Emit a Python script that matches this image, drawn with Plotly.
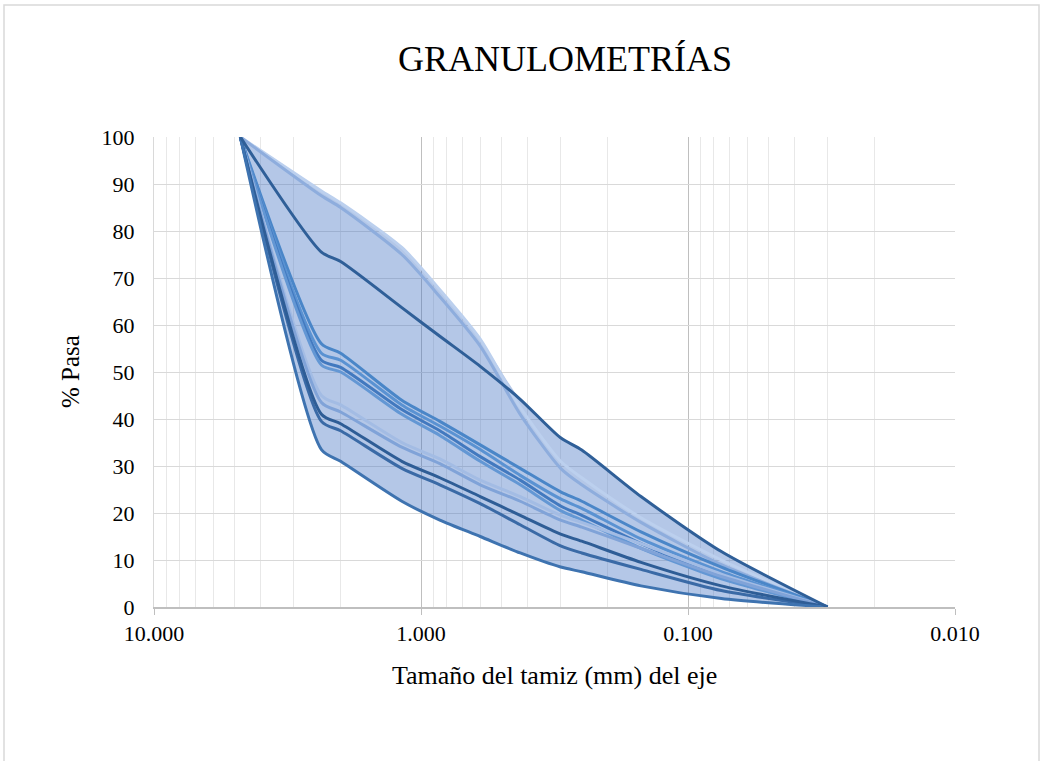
import plotly.graph_objects as go

# Sieve openings (mm) and percent passing for each sample
tamices = [4.75, 2.36, 2.00, 1.18, 0.85, 0.60, 0.425, 0.30, 0.25, 0.15, 0.075, 0.03]

muestra_l1 = [100, 88.5, 86.0, 76.5, 67.5, 57.0, 42.5, 31.0, 27.5, 19.0, 10.0, 0]
muestra_l2 = [100, 87.5, 85.0, 75.0, 66.0, 55.5, 41.0, 29.5, 26.0, 18.0, 9.0, 0]
muestra_d = [100, 75.5, 73.5, 63.7, 57.6, 51.2, 44.2, 36.0, 33.4, 23.5, 11.8, 0]
muestra_m1 = [100, 56.0, 54.0, 44.0, 39.5, 34.5, 29.5, 24.5, 22.5, 16.0, 8.5, 0]
muestra_m2 = [100, 54.0, 52.5, 43.0, 38.5, 33.5, 28.0, 23.0, 21.0, 14.5, 7.5, 0]
muestra_m3 = [100, 52.5, 51.0, 42.0, 37.5, 32.0, 27.0, 21.5, 19.5, 13.5, 6.5, 0]
muestra_m4 = [100, 51.5, 50.0, 41.0, 36.5, 31.0, 26.0, 20.5, 18.5, 12.5, 6.0, 0]
muestra_c4 = [100, 45.0, 43.0, 35.0, 31.5, 27.0, 23.5, 19.5, 18.0, 13.5, 7.0, 0]
muestra_c3 = [100, 43.5, 41.5, 34.0, 30.5, 26.0, 22.5, 18.5, 17.0, 12.5, 6.5, 0]
muestra_c2 = [100, 41.0, 39.0, 31.0, 27.5, 23.5, 19.5, 15.5, 14.0, 9.5, 4.5, 0]
muestra_c1 = [100, 39.5, 37.5, 29.5, 26.0, 22.0, 17.5, 13.0, 11.5, 8.0, 3.5, 0]
muestra_b = [100, 33.5, 31.0, 22.5, 18.5, 15.0, 11.5, 8.5, 7.5, 4.5, 1.8, 0]

x_ticks = [10, 1, 0.1, 0.01]
x_tick_text = ["10.000", "1.000", "0.100", "0.010"]
y_ticks = list(range(0, 101, 10))

series = [
    (muestra_l1, "#bcd0ee"),
    (muestra_l2, "#8eaddd"),
    (muestra_m1, "#4a86c8"),
    (muestra_m2, "#5a92d2"),
    (muestra_m3, "#4279bf"),
    (muestra_m4, "#6397d4"),
    (muestra_c4, "#a3bce4"),
    (muestra_c3, "#80a3d8"),
    (muestra_c1, "#3a6aa6"),
    (muestra_c2, "#2e5d96"),
    (muestra_b, "#3e73b0"),
    (muestra_d, "#2f5f98"),
]

all_vals = [s for s, _ in series]
upper = [max(v[i] for v in all_vals) for i in range(len(tamices))]
lower = [min(v[i] for v in all_vals) for i in range(len(tamices))]

SERIF = "Liberation Serif, Times New Roman, serif"
SMOOTH = 0.7

fig = go.Figure()

# Shaded band between the finest and coarsest gradations
fig.add_trace(go.Scatter(x=tamices, y=lower, mode="lines",
                         line=dict(width=0, shape="spline", smoothing=SMOOTH),
                         hoverinfo="skip", showlegend=False))
fig.add_trace(go.Scatter(x=tamices, y=upper, mode="lines", fill="tonexty",
                         fillcolor="rgba(68,114,196,0.40)",
                         line=dict(width=0, shape="spline", smoothing=SMOOTH),
                         hoverinfo="skip", showlegend=False))

for vals, color in series:
    fig.add_trace(go.Scatter(x=tamices, y=vals, mode="lines",
                             line=dict(color=color, width=3, shape="spline",
                                       smoothing=SMOOTH),
                             showlegend=False))

minor_vals = [m * 10 ** k for k in (-2, -1, 0) for m in range(2, 10)]

fig.update_layout(
    width=1043, height=761,
    margin=dict(l=154, r=88, t=137, b=154),
    paper_bgcolor="white", plot_bgcolor="white",
    showlegend=False,
    title=dict(text="GRANULOMETRÍAS", x=565 / 1043, xref="container",
               xanchor="center", y=1 - 58 / 761, yref="container",
               yanchor="middle",
               font=dict(family=SERIF, size=36, color="black")),
    xaxis=dict(type="log", range=[1, -2],
               tickmode="array", tickvals=x_ticks, ticktext=x_tick_text,
               tickfont=dict(family=SERIF, size=22, color="black"),
               showgrid=True, gridcolor="#bfbfbf", gridwidth=1,
               showline=True, linecolor="#bfbfbf", linewidth=1.5,
               ticks="outside", ticklen=6, tickcolor="#bfbfbf",
               zeroline=False,
               minor=dict(tickmode="array", tickvals=minor_vals,
                          showgrid=True, gridcolor="#e8e8e8", gridwidth=1,
                          ticks="")),
    yaxis=dict(range=[0, 100], tickmode="array", tickvals=y_ticks,
               tickfont=dict(family=SERIF, size=22, color="black"),
               showgrid=True, gridcolor="#d9d9d9", gridwidth=1,
               showline=True, linecolor="#d9d9d9", linewidth=1,
               ticks="", ticklabelstandoff=14, zeroline=False),
    annotations=[
        dict(text="Tamaño del tamiz (mm) del eje", xref="paper", yref="paper",
             x=0.5, y=(607 - 675) / 470, xanchor="center", yanchor="middle",
             showarrow=False, font=dict(family=SERIF, size=26, color="black")),
        dict(text="% Pasa", xref="paper", yref="paper",
             x=(70 - 154) / 801, y=0.5, xanchor="center", yanchor="middle",
             textangle=-90, showarrow=False,
             font=dict(family=SERIF, size=25, color="black")),
    ],
    shapes=[
        dict(type="rect", xref="paper", yref="paper",
             x0=(4 - 154) / 801, x1=(1039 - 154) / 801,
             y0=(607 - 900) / 470, y1=(607 - 5) / 470,
             line=dict(color="#d9d9d9", width=1.5), fillcolor="rgba(0,0,0,0)",
             layer="below"),
    ],
)

fig.write_html("out.html")
